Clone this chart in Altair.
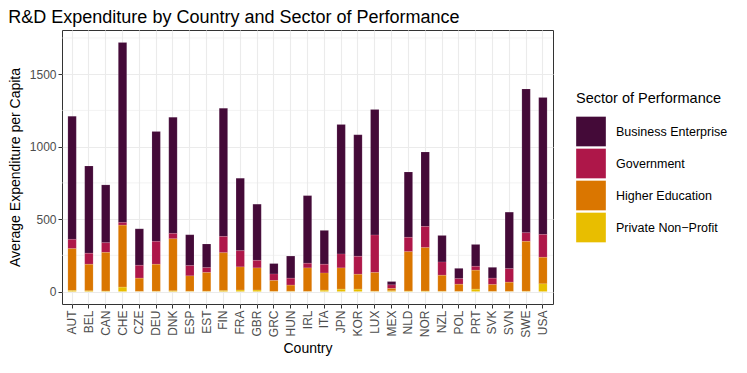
import altair as alt
import pandas as pd

countries = ["AUT", "BEL", "CAN", "CHE", "CZE", "DEU", "DNK", "ESP", "EST", "FIN",
             "FRA", "GBR", "GRC", "HUN", "IRL", "ITA", "JPN", "KOR", "LUX", "MEX",
             "NLD", "NOR", "NZL", "POL", "PRT", "SVK", "SVN", "SWE", "USA"]
sectors = ["Business Enterprise", "Government", "Higher Education", "Private Non\u2212Profit"]
colors = ["#440A38", "#AE1749", "#DA7600", "#E8BE00"]

business = [850, 602, 399, 1242, 252, 759, 802, 213, 163, 885,
            500, 388, 72, 153, 467, 234, 894, 839, 866, 23,
            451, 514, 183, 71, 151, 75, 390, 992, 945]
government = [64, 76, 67, 19, 89, 158, 37, 71, 34, 112,
              112, 52, 45, 48, 32, 60, 96, 124, 259, 25,
              99, 146, 92, 39, 27, 44, 94, 60, 158]
higher_ed = [289, 183, 267, 428, 91, 186, 359, 106, 129, 262,
             160, 153, 75, 42, 162, 119, 147, 103, 129, 16,
             272, 300, 110, 49, 131, 47, 63, 344, 183]
private_np = [7, 5, 3, 30, 1, 2, 5, 2, 2, 6,
              10, 10, 1, 2, 1, 9, 16, 16, 2, 5,
              3, 3, 2, 1, 16, 1, 1, 2, 53]

y_major = [0, 500, 1000, 1500]
y_minor = [250, 750, 1250, 1750]

rows = []
for i, c in enumerate(countries):
    for k, (s, vals) in enumerate(zip(sectors, [business, government, higher_ed, private_np])):
        rows.append({"Country": c, "Sector": s, "Value": vals[i], "rank": k})
df = pd.DataFrame(rows)

font = "Liberation Sans"
yscale = alt.Scale(domain=[-86, 1805], nice=False, zero=False)
yaxis = alt.Axis(title="Average Expenditure per Capita", values=y_major, format="d",
                 grid=True, titlePadding=7)

minor = alt.Chart(pd.DataFrame({"v": y_minor})).mark_rule(
    color="#EBEBEB", strokeWidth=0.6
).encode(y=alt.Y("v:Q", scale=yscale, axis=yaxis))

bars = alt.Chart(df).mark_bar(stroke="white", strokeWidth=0.3, strokeOpacity=0.4).encode(
    x=alt.X("Country:N", sort=countries,
            scale=alt.Scale(paddingInner=0.5, paddingOuter=0.35),
            axis=alt.Axis(title="Country", labelAngle=270, labelAlign="right",
                          labelBaseline="middle", grid=True, bandPosition=0.5,
                          labelPadding=2)),
    y=alt.Y("Value:Q", stack="zero", scale=yscale, axis=yaxis),
    color=alt.Color("Sector:N", sort=sectors,
                    scale=alt.Scale(domain=sectors, range=colors),
                    legend=alt.Legend(title="Sector of Performance", orient="none",
                                      legendX=514, legendY=62,
                                      symbolType="square", symbolSize=880,
                                      symbolStrokeWidth=0, symbolOpacity=1,
                                      rowPadding=2, labelOffset=10,
                                      titlePadding=10)),
    order=alt.Order("rank:Q", sort="descending"),
)

chart = alt.layer(minor, bars).properties(
    width=491, height=274,
    padding={"left": 0, "top": 1, "right": 0, "bottom": 0},
    title=alt.TitleParams("R&D Expenditure by Country and Sector of Performance",
                          anchor="start", frame="bounds", fontSize=18,
                          fontWeight="normal", font=font, color="black", offset=3),
).configure_view(stroke="#333333", strokeWidth=1
).configure_axis(
    labelFont=font, titleFont=font, labelFontSize=12, titleFontSize=14,
    labelColor="#4D4D4D", titleColor="black", titleFontWeight="normal",
    gridColor="#EBEBEB", gridWidth=1.1, domain=False,
    tickColor="#333333", tickSize=4, tickWidth=1,
).configure_legend(
    labelFont=font, titleFont=font, labelFontSize=12.5, titleFontSize=14.5,
    titleFontWeight="normal", labelColor="black", titleColor="black",
)

chart.save("out.html", embed_options={"renderer": "svg", "actions": False})
